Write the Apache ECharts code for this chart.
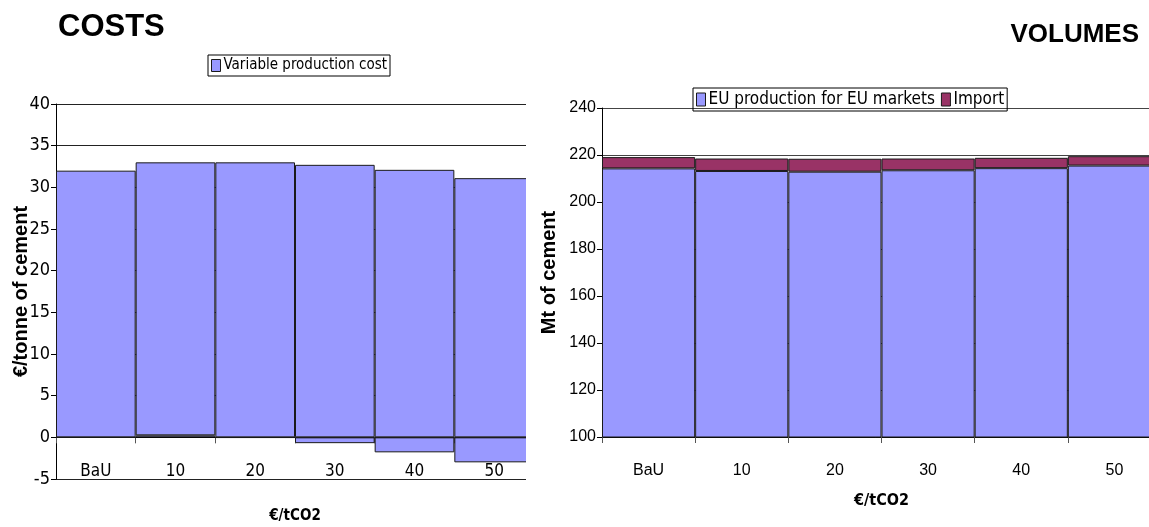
<!DOCTYPE html>
<html>
<head>
<meta charset="utf-8">
<script src="https://cdn.jsdelivr.net/npm/echarts@6/dist/echarts.min.js"></script>
<style>
  html, body { margin: 0; padding: 0; background: #fff; }
  #costs { position: absolute; left: 0; top: 0; width: 526px; height: 527px; }
  #volumes { position: absolute; left: 526px; top: 0; width: 623px; height: 527px; }
</style>
</head>
<body>
<div id="costs"></div>
<div id="volumes"></div>
<script>
// Carbon price scenarios (€/tCO2)
const categories = ['BaU', '10', '20', '30', '40', '50'];

// COSTS: stacked cost components, €/tonne of cement
const netCo2Cost = [0, 0.24, -0.05, -0.7, -1.8, -3.0];
const variableProductionCost = [32.0, 32.76, 33.0, 32.7, 32.1, 31.1];
const costTicks = { min: -5, max: 40, interval: 5 };

// VOLUMES: Mt of cement supplied to EU markets
const euProduction = [214.3, 213.2, 212.9, 213.5, 214.4, 215.5];
const imports = [4.8, 5.3, 5.5, 5.0, 4.4, 4.0];
const volumeTicks = { min: 100, max: 240, interval: 20 };

const SANS = '"Liberation Sans", Arial, sans-serif';
const NARROW = '"Liberation Sans Narrow", "DejaVu Sans Condensed", "Liberation Sans", sans-serif';
const BLUE = '#9999FF';
const PLUM = '#993366';

const barStyle = (color) => ({ color: color, borderColor: '#1a1a1a', borderWidth: 1 });

// ---- COSTS ----
const costs = echarts.init(document.getElementById('costs'), null, { renderer: 'canvas' });
costs.setOption({
  animation: false,
  title: {
    text: 'COSTS', left: 53, top: 7,
    textStyle: { fontFamily: SANS, fontWeight: 'bold', fontSize: 31, color: '#000' }
  },
  legend: {
    data: ['Variable production cost'],
    left: 208, top: 55,
    padding: [3, 3, 3, 3],
    borderColor: '#000', borderWidth: 1,
    itemWidth: 9, itemHeight: 12, itemGap: 4,
    icon: 'rect',
    itemStyle: { borderColor: '#1a1a1a', borderWidth: 1 },
    textStyle: { fontFamily: NARROW, fontSize: 15, color: '#000', padding: [0, 0, 0, -2] }
  },
  // the plot runs past the right edge of its panel, so the last bar is cut
  grid: { left: 56, top: 104, bottom: 48, right: -8, outerBoundsMode: 'none' },
  xAxis: {
    type: 'category',
    data: categories,
    axisLine: { onZero: true, lineStyle: { color: '#000', width: 1 } },
    axisTick: { show: true, length: 6, lineStyle: { color: '#555' } },
    // category labels sit just above the -5 gridline
    axisLabel: { margin: -16, fontFamily: NARROW, fontSize: 17, color: '#000' },
    name: '€/tCO2',
    nameLocation: 'middle',
    nameGap: 30,
    nameMoveOverlap: false,
    nameTextStyle: { fontFamily: NARROW, fontWeight: 'bold', fontSize: 15, color: '#000' },
    splitLine: { show: false }
  },
  yAxis: {
    type: 'value',
    min: costTicks.min, max: costTicks.max, interval: costTicks.interval,
    axisLine: { show: true, lineStyle: { color: '#000', width: 1 } },
    axisTick: { show: true, length: 5, lineStyle: { color: '#000' } },
    axisLabel: { margin: 6, fontFamily: NARROW, fontSize: 18, color: '#000' },
    splitLine: { show: true, lineStyle: { color: '#222', width: 1 } },
    name: '€/tonne of cement',
    nameLocation: 'middle',
    nameGap: 25,
    nameMoveOverlap: false,
    nameTextStyle: { fontFamily: SANS, fontWeight: 'bold', fontSize: 20, color: '#000' }
  },
  series: [
    {
      name: 'Net CO2 cost', type: 'bar', stack: 'cost',
      data: netCo2Cost, barCategoryGap: '0%',
      itemStyle: barStyle(BLUE)
    },
    {
      name: 'Variable production cost', type: 'bar', stack: 'cost',
      data: variableProductionCost, barCategoryGap: '0%',
      itemStyle: barStyle(BLUE)
    }
  ]
});

// ---- VOLUMES ----
const volumes = echarts.init(document.getElementById('volumes'), null, { renderer: 'canvas' });
volumes.setOption({
  animation: false,
  title: {
    text: 'VOLUMES', right: 5, top: 17,
    textStyle: { fontFamily: SANS, fontWeight: 'bold', fontSize: 26, color: '#000' }
  },
  legend: {
    data: ['EU production for EU markets', 'Import'],
    left: 167, top: 88,
    padding: [3, 3, 3, 3],
    borderColor: '#000', borderWidth: 1,
    itemWidth: 9, itemHeight: 13, itemGap: 6,
    icon: 'rect',
    itemStyle: { borderColor: '#1a1a1a', borderWidth: 1 },
    textStyle: { fontFamily: NARROW, fontSize: 17, color: '#000', padding: [0, 0, 0, -2] }
  },
  // likewise cut at the right edge of the panel
  grid: { left: 76, top: 108, bottom: 90, right: -12, outerBoundsMode: 'none' },
  xAxis: {
    type: 'category',
    data: categories,
    axisLine: { lineStyle: { color: '#000', width: 1 } },
    axisTick: { show: true, length: 6, lineStyle: { color: '#555' } },
    axisLabel: { margin: 26, fontFamily: SANS, fontSize: 16, color: '#000' },
    name: '€/tCO2',
    nameLocation: 'middle',
    nameGap: 56,
    nameMoveOverlap: false,
    nameTextStyle: { fontFamily: NARROW, fontWeight: 'bold', fontSize: 16, color: '#000' }
  },
  yAxis: {
    type: 'value',
    min: volumeTicks.min, max: volumeTicks.max, interval: volumeTicks.interval,
    axisLine: { show: true, lineStyle: { color: '#000', width: 1 } },
    axisTick: { show: true, length: 5, lineStyle: { color: '#000' } },
    axisLabel: { margin: 6, fontFamily: SANS, fontSize: 16, color: '#000' },
    splitLine: { show: true, lineStyle: { color: '#444', width: 1 } },
    name: 'Mt of cement',
    nameLocation: 'middle',
    nameGap: 43,
    nameMoveOverlap: false,
    nameTextStyle: { fontFamily: SANS, fontWeight: 'bold', fontSize: 20, color: '#000' }
  },
  series: [
    {
      name: 'EU production for EU markets', type: 'bar', stack: 'vol',
      data: euProduction, barCategoryGap: '0%',
      itemStyle: barStyle(BLUE)
    },
    {
      name: 'Import', type: 'bar', stack: 'vol',
      data: imports, barCategoryGap: '0%',
      itemStyle: barStyle(PLUM)
    }
  ]
});
</script>
</body>
</html>
